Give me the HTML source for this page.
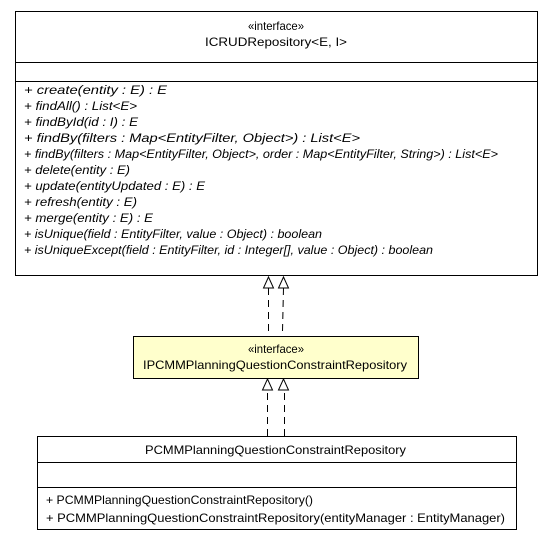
<!DOCTYPE html>
<html><head><style>html,body{margin:0;padding:0;background:#fff}svg{display:block}</style></head><body>
<svg width="552" height="541" xmlns="http://www.w3.org/2000/svg" font-family="Liberation Sans, Arial, sans-serif" font-size="12" fill="#000">
<rect x="15.5" y="11.5" width="522" height="264" fill="#fff" stroke="#000"/>
<line x1="15" y1="62.5" x2="538" y2="62.5" stroke="#000"/>
<line x1="15" y1="81.5" x2="538" y2="81.5" stroke="#000"/>
<text x="248" y="30" textLength="56" lengthAdjust="spacingAndGlyphs">«interface»</text>
<text x="205" y="46" textLength="142" lengthAdjust="spacingAndGlyphs">ICRUDRepository&lt;E, I&gt;</text>
<g font-style="italic">
<text x="24" y="94" textLength="143" lengthAdjust="spacingAndGlyphs">+ create(entity : E) : E</text>
<text x="24" y="110" textLength="113" lengthAdjust="spacingAndGlyphs">+ findAll() : List&lt;E&gt;</text>
<text x="24" y="126" textLength="114" lengthAdjust="spacingAndGlyphs">+ findById(id : I) : E</text>
<text x="24" y="142" textLength="336" lengthAdjust="spacingAndGlyphs">+ findBy(filters : Map&lt;EntityFilter, Object&gt;) : List&lt;E&gt;</text>
<text x="24" y="158" textLength="474" lengthAdjust="spacingAndGlyphs">+ findBy(filters : Map&lt;EntityFilter, Object&gt;, order : Map&lt;EntityFilter, String&gt;) : List&lt;E&gt;</text>
<text x="24" y="174" textLength="106" lengthAdjust="spacingAndGlyphs">+ delete(entity : E)</text>
<text x="24" y="190" textLength="181" lengthAdjust="spacingAndGlyphs">+ update(entityUpdated : E) : E</text>
<text x="24" y="206" textLength="113" lengthAdjust="spacingAndGlyphs">+ refresh(entity : E)</text>
<text x="24" y="222" textLength="129" lengthAdjust="spacingAndGlyphs">+ merge(entity : E) : E</text>
<text x="24" y="238" textLength="298" lengthAdjust="spacingAndGlyphs">+ isUnique(field : EntityFilter, value : Object) : boolean</text>
<text x="24" y="254" textLength="409" lengthAdjust="spacingAndGlyphs">+ isUniqueExcept(field : EntityFilter, id : Integer[], value : Object) : boolean</text>
</g>
<g stroke="#000" fill="none">
<path d="M268.5 331 L268.5 288" stroke-dasharray="7,5"/>
<path d="M282.5 331 L283.5 288" stroke-dasharray="7,5"/>
<path d="M268.5 277 L263.5 288 L273.5 288 Z" fill="#fff"/>
<path d="M283.5 277 L278.5 288 L288.5 288 Z" fill="#fff"/>
<path d="M267.5 436 L267.5 390" stroke-dasharray="7,5"/>
<path d="M284.5 436 L284.5 390" stroke-dasharray="7,5"/>
<path d="M267.5 379 L262.5 390 L272.5 390 Z" fill="#fff"/>
<path d="M283.5 379 L278.5 390 L288.5 390 Z" fill="#fff"/>
</g>
<rect x="133.5" y="336.5" width="285" height="42" fill="#ffffcc" stroke="#000"/>
<text x="248" y="353" textLength="56" lengthAdjust="spacingAndGlyphs">«interface»</text>
<text x="143" y="369" textLength="264" lengthAdjust="spacingAndGlyphs">IPCMMPlanningQuestionConstraintRepository</text>
<rect x="37.5" y="436.5" width="479" height="93" fill="#fff" stroke="#000"/>
<line x1="37" y1="462.5" x2="517" y2="462.5" stroke="#000"/>
<line x1="37" y1="487.5" x2="517" y2="487.5" stroke="#000"/>
<text x="145" y="454" textLength="261" lengthAdjust="spacingAndGlyphs">PCMMPlanningQuestionConstraintRepository</text>
<text x="46" y="504" textLength="267" lengthAdjust="spacingAndGlyphs">+ PCMMPlanningQuestionConstraintRepository()</text>
<text x="46" y="522" textLength="459" lengthAdjust="spacingAndGlyphs">+ PCMMPlanningQuestionConstraintRepository(entityManager : EntityManager)</text>
</svg>
</body></html>
